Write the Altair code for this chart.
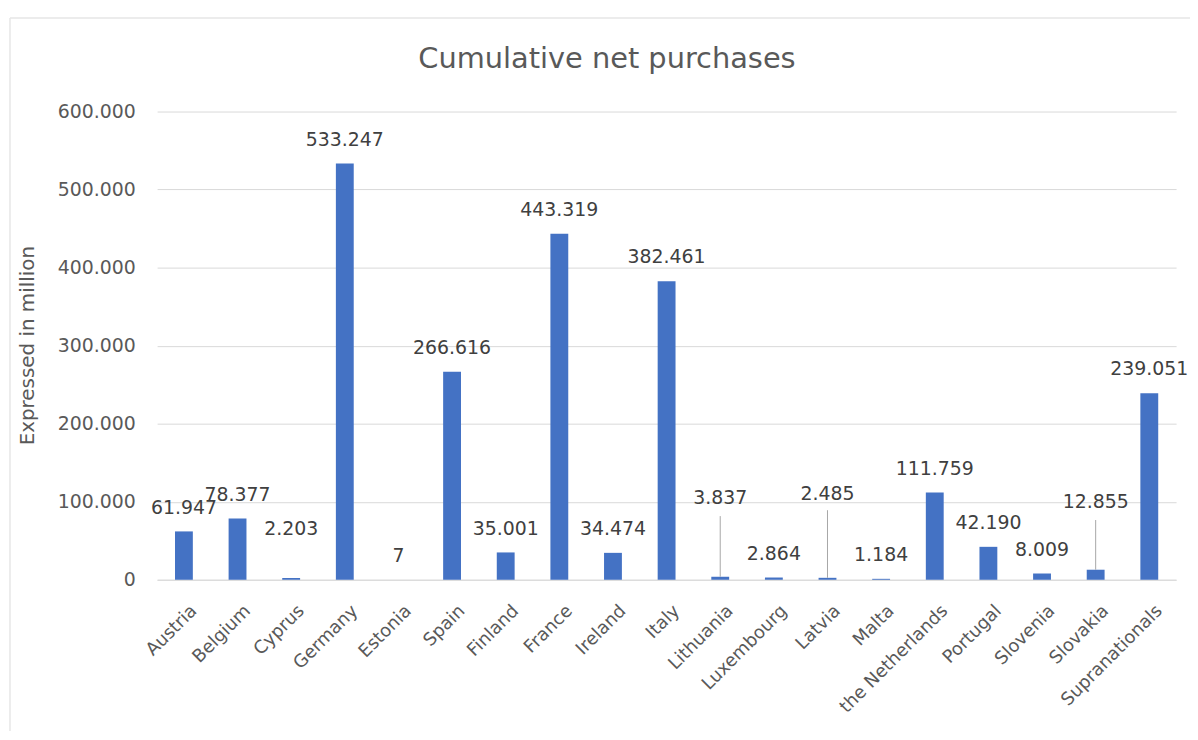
import altair as alt
import pandas as pd

countries = ["Austria", "Belgium", "Cyprus", "Germany", "Estonia", "Spain", "Finland",
             "France", "Ireland", "Italy", "Lithuania", "Luxembourg", "Latvia", "Malta",
             "the Netherlands", "Portugal", "Slovenia", "Slovakia", "Supranationals"]
values = [61947, 78377, 2203, 533247, 7, 266616, 35001, 443319, 34474, 382461,
          3837, 2864, 2485, 1184, 111759, 42190, 8009, 12855, 239051]
y_ticks = [0, 100000, 200000, 300000, 400000, 500000, 600000]

df = pd.DataFrame({"country": countries, "value": values})

FONT = "DejaVu Sans"
AXIS_GREY = "#595959"
LABEL_GREY = "#404040"

# label lifts (pixels) for labels Excel moved to avoid overlaps: (text dy, leader top offset)
lifted = {"Cyprus": (-49, None), "Lithuania": (-79, -61),
          "Latvia": (-84, -68), "Slovakia": (-68, -50)}

x_enc = alt.X("country:N", sort=countries,
              scale=alt.Scale(paddingInner=0.667, paddingOuter=0.333),
              axis=alt.Axis(title=None, labelAngle=-45, labelFont=FONT, labelFontSize=18,
                            labelColor=AXIS_GREY, labelPadding=22, labelOffset=4,
                            ticks=False, domainColor="#D9D9D9", domainWidth=1))
y_enc = alt.Y("value:Q", scale=alt.Scale(domain=[0, 600000]),
              axis=alt.Axis(title="Expressed in million", values=y_ticks,
                            labelExpr="format(datum.value, ',')",
                            labelFont=FONT, labelFontSize=19, labelColor=AXIS_GREY,
                            labelPadding=22, ticks=False, domain=False,
                            gridColor="#D9D9D9", titleFont=FONT, titleFontSize=20,
                            titleFontWeight="normal", titleColor=AXIS_GREY,
                            titleX=-120, titleY=235, titleBaseline="bottom"))

base = alt.Chart(df).encode(x=x_enc)

bars = base.mark_bar(color="#4472C4").encode(y=y_enc)

names = "[" + ",".join("'%s'" % c for c in lifted) + "]"
labels = base.transform_filter(f"indexof({names}, datum.country) < 0").mark_text(
    dy=-24, font=FONT, fontSize=19, color=LABEL_GREY
).encode(y="value:Q", text=alt.Text("value:Q", format=","))

layers = [bars, labels]
for c, (dy, lead) in lifted.items():
    sub = base.transform_filter(alt.datum.country == c)
    layers.append(sub.mark_text(dy=dy, font=FONT, fontSize=19, color=LABEL_GREY)
                  .encode(y="value:Q", text=alt.Text("value:Q", format=",")))
    if lead is not None:
        layers.append(sub.mark_rule(color="#A6A6A6", strokeWidth=1, y2Offset=lead)
                      .encode(y="value:Q", y2="value:Q"))

# light frame of the sheet around the chart (left and top edges)
frame_src = alt.Chart(pd.DataFrame({"edge": ["frame"]}))
left_edge = frame_src.mark_rule(color="#E6E6E6", strokeWidth=1.5).encode(
    x=alt.value(-148), y=alt.value(-94), y2=alt.value(640))
top_edge = frame_src.mark_rule(color="#E6E6E6", strokeWidth=1.5).encode(
    x=alt.value(-148), x2=alt.value(1045), y=alt.value(-94))
layers += [left_edge, top_edge]

chart = alt.layer(*layers).properties(
    width=1025, height=471,
    title=alt.TitleParams("Cumulative net purchases", font=FONT, fontSize=29,
                          fontWeight="normal", color=AXIS_GREY, anchor="middle",
                          dx=-60, dy=85, offset=28),
    autosize=alt.AutoSizeParams(type="none"),
    padding={"left": 150, "top": 102, "right": 14, "bottom": 150},
).configure_view(stroke=None)

chart.save("out.html", embed_options={
    "renderer": "svg", "actions": False,
    "formatLocale": {"decimal": ",", "thousands": ".", "grouping": [3],
                     "currency": ["", "\u00a0€"]}})
